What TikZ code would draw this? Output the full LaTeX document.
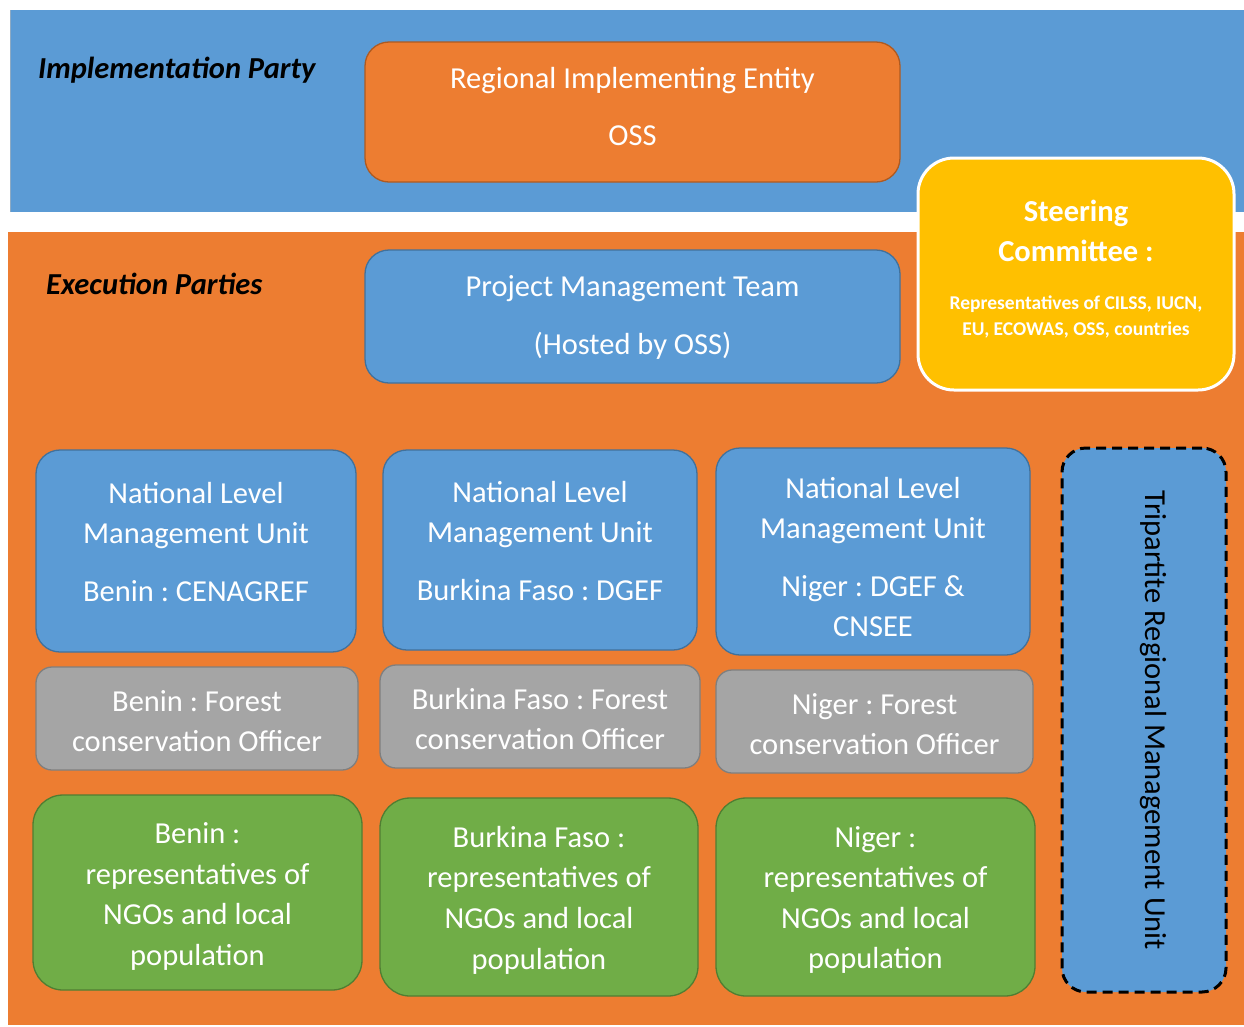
\documentclass[tikz,border=0pt]{standalone}
\usepackage{fontspec}
\setmainfont{Carlito}
\frenchspacing
\begin{document}
\begin{tikzpicture}[x=1pt,y=-1pt,
  base/.style={rounded corners=24pt, line width=1.3pt, inner sep=0pt},
  txt/.style={inner sep=0pt, align=center, text=white, font=\frenchspacing\fontsize{30.5}{40}\selectfont},
  bluebox/.style={base, fill=blueC, draw=blueD},
  orangebox/.style={base, fill=orangeC, draw=orangeD},
  greybox/.style={base, fill=greyC, draw=greyD, rounded corners=16pt},
  greenbox/.style={base, fill=greenC, draw=greenD, rounded corners=30pt},
  partylabel/.style={anchor=west, inner sep=0pt, font=\fontsize{30.5}{36}\selectfont\bfseries\itshape}
]
\definecolor{blueC}{HTML}{5B9BD5}
\definecolor{blueD}{HTML}{41719C}
\definecolor{orangeC}{HTML}{ED7D31}
\definecolor{orangeD}{HTML}{AE5A21}
\definecolor{greyC}{HTML}{A5A5A5}
\definecolor{greyD}{HTML}{7F7F7F}
\definecolor{greenC}{HTML}{70AD47}
\definecolor{greenD}{HTML}{507E32}
\definecolor{yellowC}{HTML}{FFC000}
\useasboundingbox[fill=white] (0,0) rectangle (1244,1026);
% bands
\fill[blueC] (10,10) rectangle (1244,212);
\draw[blueD!60, line width=0.8pt] (10,212) -- (10,10);
\fill[orangeC] (8,232) rectangle (1244,1025);
\node[partylabel] (impl) at (38,70) {Implementation Party};
\node[partylabel] (exec) at (46,284) {Execution Parties};
% top boxes
\node[orangebox, minimum width=535pt, minimum height=140pt] (rie) at (632.5,112) {};
\node[txt] (riet) at (632.5,107) {Regional Implementing Entity\\[17pt]OSS};
\node[bluebox, minimum width=535pt, minimum height=133pt] (pmt) at (632.5,316.5) {};
\node[txt] (pmtt) at (632.5,317.5) {Project Management Team\\[18pt](Hosted by OSS)};
% steering
\node[base, fill=yellowC, draw=white, line width=3pt, rounded corners=36pt,
  minimum width=316pt, minimum height=232pt] (sc) at (1076,274) {};
\node[txt] (sct) at (1076,269)
  {{\bfseries Steering}\\{\bfseries Committee :}\\[8pt]
   {\fontsize{19.5}{26}\selectfont\bfseries Representatives of CILSS, IUCN,}\\[-14pt]
   {\fontsize{19.5}{26}\selectfont\bfseries EU, ECOWAS, OSS, countries}};
% national level
\node[bluebox, minimum width=320pt, minimum height=202pt] (nb) at (196,551) {};
\node[txt] (nbt) at (196,542) {National Level\\Management Unit\\[18pt]Benin : CENAGREF};
\node[bluebox, minimum width=314pt, minimum height=200pt] (nbf) at (540,550) {};
\node[txt] (nbft) at (540,541) {National Level\\Management Unit\\[18pt]Burkina Faso : DGEF};
\node[bluebox, minimum width=314pt, minimum height=207pt] (nn) at (873,551.5) {};
\node[txt] (nnt) at (873,557) {National Level\\Management Unit\\[18pt]Niger : DGEF \&\\CNSEE};
% officers
\node[greybox, minimum width=322pt, minimum height=103pt] (ob) at (197,718.5) {};
\node[txt] (obt) at (197,721.5) {Benin : Forest\\conservation Officer};
\node[greybox, minimum width=320pt, minimum height=103pt] (obf) at (540,716.5) {};
\node[txt] (obft) at (540,719.5) {Burkina Faso : Forest\\conservation Officer};
\node[greybox, minimum width=317pt, minimum height=103pt] (on) at (874.5,721.5) {};
\node[txt] (ont) at (874.5,724.5) {Niger : Forest\\conservation Officer};
% NGOs
\node[greenbox, minimum width=329pt, minimum height=195pt] (gb) at (197.5,892.5) {};
\node[txt, font=\frenchspacing\fontsize{30.5}{40.6}\selectfont] (gbt) at (197.5,896.5)
  {Benin :\\representatives of\\NGOs and local\\population};
\node[greenbox, minimum width=318pt, minimum height=198pt] (gbf) at (539,897) {};
\node[txt, font=\frenchspacing\fontsize{30.5}{40.6}\selectfont] (gbft) at (539,900)
  {Burkina Faso :\\representatives of\\NGOs and local\\population};
\node[greenbox, minimum width=319pt, minimum height=198pt] (gn) at (875.5,897) {};
\node[txt, font=\frenchspacing\fontsize{30.5}{40.6}\selectfont] (gnt) at (875.5,900)
  {Niger :\\representatives of\\NGOs and local\\population};
% tripartite
\node[base, fill=blueC, draw=black, line width=3pt, dash pattern=on 10pt off 6pt,
  minimum width=164pt, minimum height=544pt] (tri) at (1144,720) {};
\node[rotate=-90, inner sep=0pt, text=black, font=\fontsize{30.5}{40}\selectfont] (trit) at (1153,720)
  {Tripartite Regional Management Unit};
\end{tikzpicture}
\end{document}
